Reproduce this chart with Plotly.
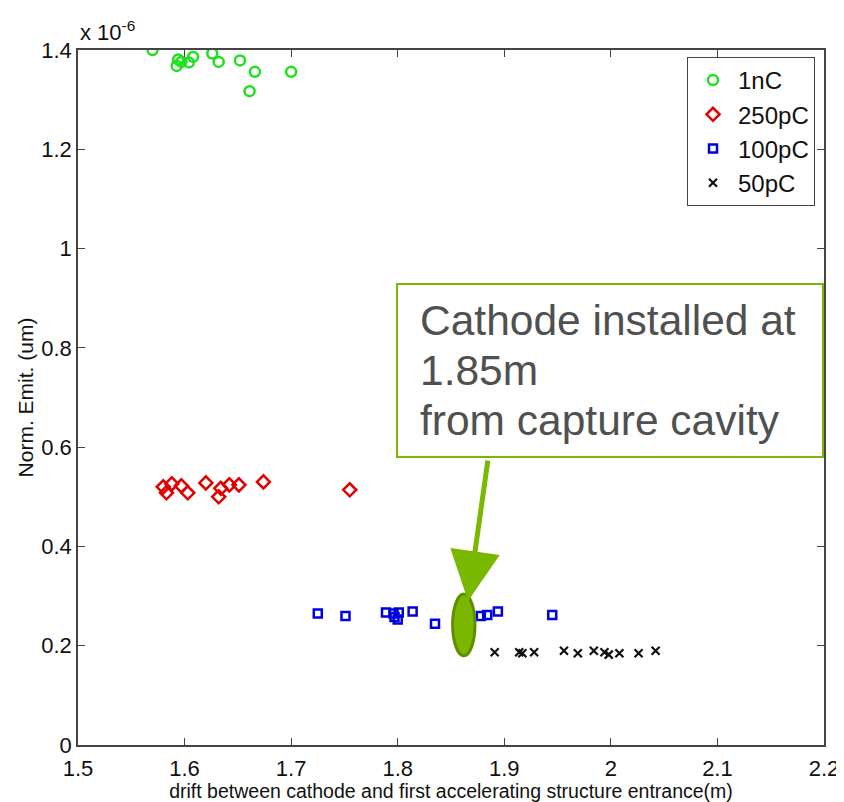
import plotly.graph_objects as go

# Norm. emittance values are in units of 1e-6 (axis multiplier "x 10^-6")
x_1nC = [1.570, 1.5926, 1.594, 1.597, 1.604, 1.608, 1.626, 1.632, 1.652, 1.666, 1.661, 1.700]
y_1nC = [1.400, 1.368, 1.381, 1.376, 1.375, 1.386, 1.393, 1.376, 1.379, 1.356, 1.317, 1.356]

x_250pC = [1.580, 1.583, 1.588, 1.597, 1.603, 1.620, 1.632, 1.634, 1.642, 1.651, 1.674, 1.755]
y_250pC = [0.520, 0.508, 0.526, 0.522, 0.508, 0.528, 0.500, 0.517, 0.524, 0.524, 0.530, 0.514]

x_100pC = [1.725, 1.751, 1.789, 1.796, 1.797, 1.800, 1.801, 1.814, 1.835, 1.878, 1.884, 1.894, 1.945]
y_100pC = [0.265, 0.260, 0.267, 0.265, 0.258, 0.253, 0.267, 0.269, 0.244, 0.260, 0.262, 0.269, 0.262]

x_50pC = [1.891, 1.914, 1.917, 1.928, 1.956, 1.969, 1.984, 1.994, 1.998, 2.008, 2.026, 2.042]
y_50pC = [0.187, 0.187, 0.185, 0.187, 0.190, 0.185, 0.190, 0.187, 0.182, 0.185, 0.185, 0.190]

x_ticks = [1.5, 1.6, 1.7, 1.8, 1.9, 2.0, 2.1, 2.2]
x_ticktext = ["1.5", "1.6", "1.7", "1.8", "1.9", "2", "2.1", "2.2"]
y_ticks = [0, 0.2, 0.4, 0.6, 0.8, 1.0, 1.2, 1.4]
y_ticktext = ["0", "0.2", "0.4", "0.6", "0.8", "1", "1.2", "1.4"]

callout_lines = ["Cathode installed at", "1.85m", "from capture cavity"]

cathode_pos = 1.862
cathode_emit = 0.242

FONT = "Liberation Sans, Arial, sans-serif"

# page body has an 8px margin: figure is sized/offset to compensate
L, T = 70, 42          # plot-area left/top inside the figure
PW, PH = 746, 695      # plot-area size


def px(xp):
    return (xp - 8 - L) / PW


def py(yp):
    return 1 - (yp - 8 - T) / PH


fig = go.Figure()
fig.add_trace(go.Scatter(x=x_1nC, y=y_1nC, mode="markers", name="1nC",
                         marker=dict(symbol="circle-open", size=10, color="#1ee01e",
                                     line=dict(width=2.5, color="#1ee01e"))))
fig.add_trace(go.Scatter(x=x_250pC, y=y_250pC, mode="markers", name="250pC",
                         marker=dict(symbol="diamond-open", size=10, color="#e00000",
                                     line=dict(width=2.5, color="#e00000"))))
fig.add_trace(go.Scatter(x=x_100pC, y=y_100pC, mode="markers", name="100pC",
                         marker=dict(symbol="square-open", size=8, color="#0000dd",
                                     line=dict(width=2.5, color="#0000dd"))))
fig.add_trace(go.Scatter(x=x_50pC, y=y_50pC, mode="markers", name="50pC",
                         marker=dict(symbol="x-thin", size=8, color="#111111",
                                     line=dict(width=2.2, color="#111111"))))

# green ellipse marking the cathode position
fig.add_shape(type="circle", xref="x", yref="y",
              x0=cathode_pos - 0.0105, x1=cathode_pos + 0.0105,
              y0=cathode_emit - 0.062, y1=cathode_emit + 0.062,
              fillcolor="#7ab800", line=dict(color="#5e8f00", width=3))

# callout box
fig.add_shape(type="rect", xref="paper", yref="paper",
              x0=px(397), x1=px(823), y0=py(457), y1=py(284),
              fillcolor="white", line=dict(color="#7ab800", width=2), layer="above")

for i, line in enumerate(callout_lines):
    fig.add_annotation(x=px(418), y=py(320 + 50 * i), xref="paper", yref="paper",
                       xanchor="left", yanchor="middle", align="left", showarrow=False,
                       text=line, font=dict(family=FONT, size=42.5, color="#505050"))

# arrow from box to ellipse
fig.add_annotation(x=1.866, y=0.29, xref="x", yref="y",
                   ax=20, ay=-142, axref="pixel", ayref="pixel", text="",
                   showarrow=True, arrowhead=2, arrowsize=2, arrowwidth=5,
                   arrowcolor="#7ab800")

# exponent label
fig.add_annotation(x=0, y=1, xref="paper", yref="paper", xanchor="left", yanchor="bottom",
                   yshift=3, showarrow=False, text="x 10<sup>-6</sup>",
                   font=dict(family=FONT, size=22, color="#111111"))

axis_common = dict(showgrid=False, zeroline=False, showline=True, linecolor="#444444",
                   linewidth=1.5, mirror="ticks", ticks="inside", ticklen=7,
                   tickcolor="#444444", tickfont=dict(family=FONT, size=22, color="#111111"))

fig.update_xaxes(range=[1.5, 2.2], tickvals=x_ticks, ticktext=x_ticktext,
                 ticklabelstandoff=3,
                 title=dict(text="drift between cathode and first accelerating structure entrance(m)",
                            font=dict(family=FONT, size=19.5, color="#111111"), standoff=4),
                 **axis_common)
fig.update_yaxes(range=[0, 1.4], tickvals=y_ticks, ticktext=y_ticktext,
                 title=dict(text="Norm. Emit. (um)",
                            font=dict(family=FONT, size=21, color="#111111"), standoff=2),
                 **axis_common)

fig.update_layout(
    width=836, height=794,
    margin=dict(l=L, r=20, t=T, b=57, autoexpand=False),
    plot_bgcolor="white", paper_bgcolor="white",
    font=dict(family=FONT),
    showlegend=True,
    legend=dict(x=px(687), y=py(57), xanchor="left", yanchor="top",
                bgcolor="white", bordercolor="#444444", borderwidth=1,
                font=dict(family=FONT, size=24, color="#111111"), itemwidth=40),
)

fig.write_html("out.html")
